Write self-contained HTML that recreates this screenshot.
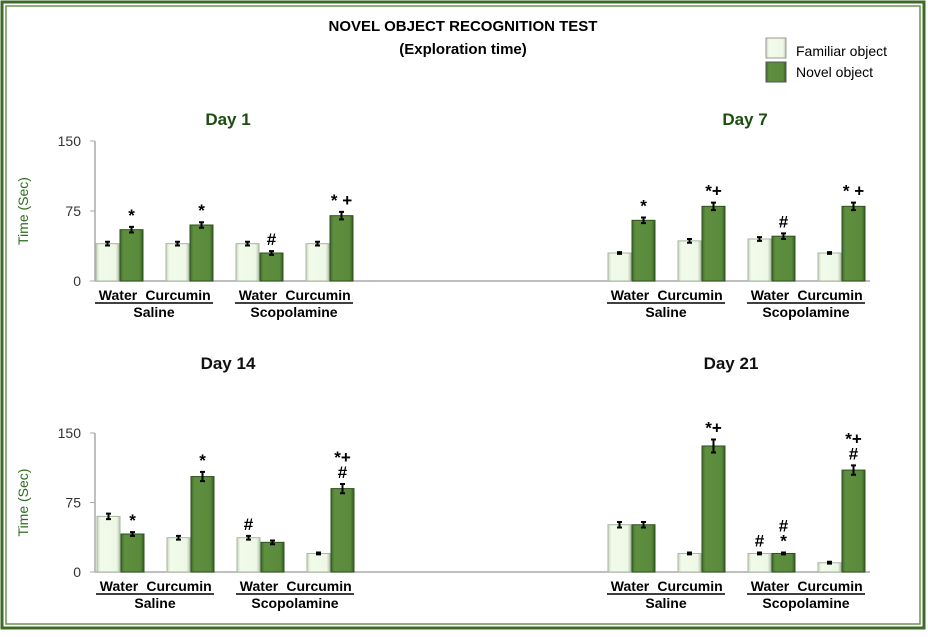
<!DOCTYPE html>
<html><head><meta charset="utf-8"><style>
body{margin:0;background:#fff}
svg text{font-family:"Liberation Sans",sans-serif}
</style></head><body>
<svg id="c" width="928" height="632" viewBox="0 0 928 632" xmlns="http://www.w3.org/2000/svg">
<defs>
<linearGradient id="gF" x1="0" x2="1"><stop offset="0" stop-color="#c9d6c0"/><stop offset="0.15" stop-color="#f2fbea"/><stop offset="0.85" stop-color="#eef8e6"/><stop offset="1" stop-color="#b9c6b0"/></linearGradient>
<linearGradient id="gN" x1="0" x2="1"><stop offset="0" stop-color="#3f6b2a"/><stop offset="0.15" stop-color="#5e8f3f"/><stop offset="0.85" stop-color="#5a8a3b"/><stop offset="1" stop-color="#345a22"/></linearGradient>
</defs>
<rect x="2" y="2" width="922" height="626" fill="#fff" stroke="#3f6b2a" stroke-width="3"/>
<rect x="6" y="6" width="914" height="618" fill="none" stroke="#6a9450" stroke-width="1.5"/>
<text x="463" y="31" text-anchor="middle" font-size="15" font-weight="bold">NOVEL OBJECT RECOGNITION TEST</text>
<text x="463" y="54" text-anchor="middle" font-size="15" font-weight="bold">(Exploration time)</text>
<g>
<rect x="766" y="38" width="20" height="20" fill="url(#gF)" stroke="#999"/>
<text x="796" y="56" font-size="14">Familiar object</text>
<rect x="766" y="62" width="20" height="20" fill="url(#gN)" stroke="#555"/>
<text x="796" y="77" font-size="14">Novel object</text>
</g>
<g id="plots"></g>
</svg>
<script>
const groups=["Water","Curcumin","Water","Curcumin"];
const dayTitles=["Day 1","Day 7","Day 14","Day 21"];
const yTicks=[0,75,150];
const familiar1=[40,40,40,40], novel1=[55,60,30,70];
const familiar7=[30,43,45,30], novel7=[65,80,48,80];
const familiar14=[60,37,37,20], novel14=[41,103,32,90];
const familiar21=[51,20,20,10], novel21=[51,136,20,110];
const errF1=[2,2,2,2], errN1=[3,3,2,4];
const errF7=[1,2,2,1], errN7=[3,4,3,4];
const errF14=[3,2,2,1], errN14=[2,5,2,5];
const errF21=[3,1,1,1], errN21=[3,7,1,5];
const notesF1=["","","",""], notesN1=["*","*","#","* +"];
const notesF7=["","","",""], notesN7=["*","*+","#","* +"];
const notesF14=["","","#",""], notesN14=["*","*","","*+|#"];
const notesF21=["","","#",""], notesN21=["","*+","#|*","*+|#"];
const NS="http://www.w3.org/2000/svg";
const root=document.getElementById('plots');
function mk(t,a,p){const e=document.createElementNS(NS,t);for(const k in a)e.setAttribute(k,a[k]);(p||root).appendChild(e);return e;}
const panels=[
 {x0:95,y0:281,top:141,left:96,F:familiar1,N:novel1,eF:errF1,eN:errN1,nF:notesF1,nN:notesN1,title:0,axis:true},
 {x0:95,y0:281,top:141,left:608,F:familiar7,N:novel7,eF:errF7,eN:errN7,nF:notesF7,nN:notesN7,title:1,axis:false},
 {x0:95,y0:572,top:433,left:97,F:familiar14,N:novel14,eF:errF14,eN:errN14,nF:notesF14,nN:notesN14,title:2,axis:true},
 {x0:95,y0:572,top:433,left:608,F:familiar21,N:novel21,eF:errF21,eN:errN21,nF:notesF21,nN:notesN21,title:3,axis:false}];
const titlePos=[[228,125],[745,125],[228,369],[731,369]];
panels.forEach((p,pi)=>{
 const g=mk('g',{});
 
 
 const y=v=>p.y0-(v/150)*(p.y0-p.top);
 const t=mk('text',{x:titlePos[pi][0],y:titlePos[pi][1],'text-anchor':'middle','font-size':17,'font-weight':'bold',fill:pi<2?'#1e4d12':'#111'},g);
 t.textContent=dayTitles[p.title];
 
 
 if(p.axis){
  const ax=mk('line',{x1:p.x0,y1:p.y0,x2:870,y2:p.y0,stroke:'#aaa','stroke-width':1.5},g);
  
  
  const ay=mk('line',{x1:p.x0,y1:p.top,x2:p.x0,y2:p.y0,stroke:'#aaa','stroke-width':1.5},g);
  
  
  yTicks.forEach(v=>{
   const tk=mk('line',{x1:p.x0-5,y1:y(v),x2:p.x0,y2:y(v),stroke:'#aaa'},g);
   
   
   const tl=mk('text',{x:p.x0-14,y:y(v)+5,'text-anchor':'end','font-size':14,fill:'#333'},g);
   tl.textContent=v;
   
   
  });
  const yt=mk('text',{transform:`translate(28,${(p.y0+p.top)/2}) rotate(-90)`,'text-anchor':'middle','font-size':14,fill:'#2e6b1e'},g);
  yt.textContent='Time  (Sec)';
  
  
 }
 for(let i=0;i<4;i++){
  const gx=p.left+i*70;
  [[p.F,p.eF,p.nF,'url(#gF)','#aab5a2',0,'familiar'],[p.N,p.eN,p.nN,'url(#gN)','#2f521e',24,'novel']].forEach(s=>{
   const v=s[0][i],x=gx+s[5],w=23;
   const b=mk('rect',{x:x,y:y(v),width:w,height:p.y0-y(v),fill:s[3],stroke:s[4],'stroke-width':1},g);
   
   
   const e=s[1][i],cx=x+w/2;
   const eb=mk('path',{d:`M${cx},${y(v+e)}V${y(v-e)}M${cx-2.5},${y(v+e)}H${cx+2.5}M${cx-2.5},${y(v-e)}H${cx+2.5}`,stroke:'#000','stroke-width':2},g);
   
   
   const note=s[2][i];
   if(note){
    const lines=note.split('|');
    lines.forEach((ln,li)=>{
     const ty=y(v+e)-6-(lines.length-1-li)*15;
     const nt=mk('text',{x:cx,y:ty,'text-anchor':'middle','font-size':17,'font-weight':'bold'},g);
     nt.textContent=ln;
     
     
    });
   }
  });
 }
 [[p.left,'Saline'],[p.left+140,'Scopolamine']].forEach(c=>{
  const x1=c[0],x2=c[0]+116;
  const w1=mk('text',{x:x1+22,y:p.y0+19,'text-anchor':'middle','font-size':14,'font-weight':'bold'},g);w1.textContent='Water';
  
  
  const w2=mk('text',{x:x1+82,y:p.y0+19,'text-anchor':'middle','font-size':14,'font-weight':'bold'},g);w2.textContent='Curcumin';
  
  
  const ul=mk('line',{x1:x1-1,y1:p.y0+22,x2:x2+1,y2:p.y0+22,stroke:'#000','stroke-width':1.5},g);
  
  
  const ct=mk('text',{x:(x1+x2)/2,y:p.y0+36,'text-anchor':'middle','font-size':14,'font-weight':'bold'},g);ct.textContent=c[1];
  
  
 });
});
</script>
</body></html>
